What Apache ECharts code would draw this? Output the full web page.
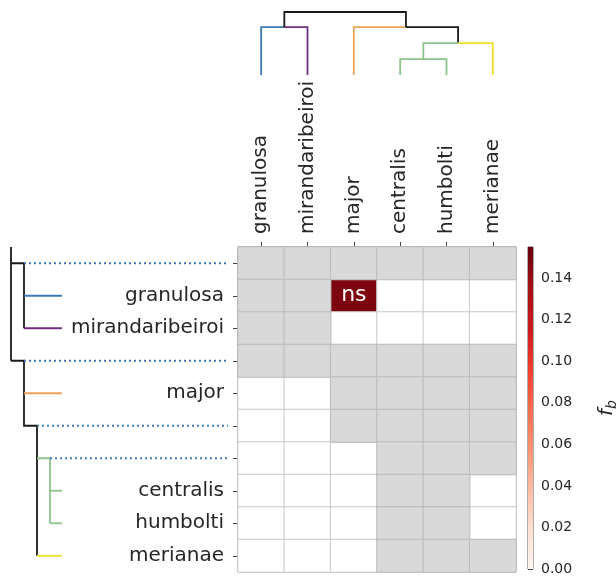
<!DOCTYPE html>
<html>
<head>
<meta charset="utf-8">
<script src="https://cdn.jsdelivr.net/npm/echarts@6/dist/echarts.min.js"></script>
<style>
html,body{margin:0;padding:0;background:#fff;}
#chart{width:616px;height:576px;}
</style>
</head>
<body>
<div id="chart"></div>
<script>
// ---- data ----
const cols = ['granulosa', 'mirandaribeiroi', 'major', 'centralis', 'humbolti', 'merianae'];
const rows = ['node_a', 'granulosa', 'mirandaribeiroi', 'node_b', 'major', 'node_c', 'node_d', 'centralis', 'humbolti', 'merianae'];
const internalNodes = ['node_a', 'node_b', 'node_c', 'node_d'];
const N = null;
const fbValues = [
  [N, N, N, N, N, N],
  [N, N, 0.148, 0, 0, 0],
  [N, N, 0, 0, 0, 0],
  [N, N, N, N, N, N],
  [0, 0, N, N, N, N],
  [0, 0, N, N, N, N],
  [0, 0, 0, N, N, N],
  [0, 0, 0, N, N, 0],
  [0, 0, 0, N, N, 0],
  [0, 0, 0, N, N, N]
];
const annotations = [{ row: 'granulosa', col: 'major', text: 'ns' }];
const cbMax = 0.155;
const cbTicks = [0, 0.02, 0.04, 0.06, 0.08, 0.10, 0.12, 0.14];

// top dendrogram: [column position, link height] polylines
const topDendroLinks = [
  { color: 'blue',   pts: [[0, 0], [0, 3], [0.5, 3]] },
  { color: 'purple', pts: [[0.5, 3], [1, 3], [1, 0]] },
  { color: 'orange', pts: [[2, 0], [2, 3], [3.125, 3]] },
  { color: 'black',  pts: [[3.125, 3], [4.25, 3], [4.25, 2]] },
  { color: 'green',  pts: [[3, 0], [3, 1], [4, 1], [4, 0]] },
  { color: 'green',  pts: [[3.5, 1], [3.5, 2], [4.25, 2]] },
  { color: 'yellow', pts: [[4.25, 2], [5, 2], [5, 0]] },
  { color: 'black',  pts: [[0.5, 3], [0.5, 3.95], [3.125, 3.95], [3.125, 3]] }
];
// left tree: [depth, row index] polylines
const leafDepth = 3.92;
const leftTreeLinks = [
  { color: 'black',  pts: [[0, -0.5], [0, 3]] },
  { color: 'black',  pts: [[0, 0], [1, 0], [1, 2]] },
  { color: 'blue',   pts: [[1, 1], [leafDepth, 1]] },
  { color: 'purple', pts: [[1, 2], [leafDepth, 2]] },
  { color: 'black',  pts: [[0, 3], [1, 3], [1, 5], [2, 5], [2, 9]] },
  { color: 'orange', pts: [[1, 4], [leafDepth, 4]] },
  { color: 'green',  pts: [[2, 6], [3, 6], [3, 8]] },
  { color: 'green',  pts: [[3, 7], [leafDepth, 7]] },
  { color: 'green',  pts: [[3, 8], [leafDepth, 8]] },
  { color: 'yellow', pts: [[2, 9], [leafDepth, 9]] }
];
const leftTreeMax = 16.7;
const dottedNodes = [
  { row: 0, depth: 1 },
  { row: 3, depth: 1 },
  { row: 5, depth: 2 },
  { row: 6, depth: 3 }
];

// ---- styles ----
const palette = {
  blue: '#3d77b0', purple: '#6f2f80', orange: '#eea356',
  green: '#8cc48c', yellow: '#f0e022', black: '#1a1a1a'
};
const reds = ['#fff5f0', '#fee0d2', '#fcbba1', '#fc9272', '#fb6a4a', '#ef3b2c', '#cb181d', '#a50f15', '#67000d'];
const FONT = 'DejaVu Sans';
const TXT = '#262626';

const valueData = [], zeroData = [], nanData = [];
fbValues.forEach((row, r) => row.forEach((v, c) => {
  if (v === null) nanData.push([c, r, 0]);
  else if (v === 0) zeroData.push([c, r, v]);
  else valueData.push([c, r, v]);
}));
function annotationFor(c, r) {
  const a = annotations.find(a => a.row === rows[r] && a.col === cols[c]);
  return a ? a.text : '';
}

const chart = echarts.init(document.getElementById('chart'), null, { renderer: 'canvas' });

const HM = { left: 238, top: 247, width: 278, height: 325 };

const option = {
  animation: false,
  backgroundColor: '#ffffff',
  textStyle: { fontFamily: FONT },
  grid: [
    { left: HM.left, top: HM.top, width: HM.width, height: HM.height, show: true, borderColor: '#5a5a5a', borderWidth: 1, backgroundColor: 'transparent' },
    { left: 528, top: HM.top, width: 20, height: HM.height, show: true, borderColor: '#5a5a5a', borderWidth: 1 },
    { left: HM.left, top: 12, width: HM.width, height: 63 },
    { left: 11, top: HM.top, width: 217, height: HM.height }
  ],
  xAxis: [
    {
      gridIndex: 0, type: 'category', data: cols, position: 'top',
      axisLine: { show: false },
      axisTick: { show: true, alignWithLabel: true, length: 5, lineStyle: { color: '#444' } },
      axisLabel: { rotate: -90, fontSize: 20, color: TXT, fontFamily: FONT, margin: 13, interval: 0 },
      splitLine: { show: true, lineStyle: { color: '#c4c4c4', width: 1 } }
    },
    { gridIndex: 1, type: 'value', min: 0, max: 1, show: false },
    { gridIndex: 2, type: 'value', min: -0.5, max: cols.length - 0.5, show: false },
    { gridIndex: 3, type: 'value', min: 0, max: leftTreeMax, show: false }
  ],
  yAxis: [
    {
      gridIndex: 0, type: 'category', data: rows, inverse: true,
      axisLine: { show: false },
      axisTick: { show: true, alignWithLabel: true, length: 5, lineStyle: { color: '#444' } },
      axisLabel: {
        fontSize: 20, color: TXT, fontFamily: FONT, margin: 14, interval: 0,
        formatter: v => internalNodes.includes(v) ? '' : v
      },
      splitLine: { show: true, lineStyle: { color: '#c4c4c4', width: 1 } }
    },
    {
      gridIndex: 1, type: 'value', min: 0, max: cbMax, position: 'right',
      axisLine: { show: false },
      axisTick: { show: true, length: 5, lineStyle: { color: '#444' }, customValues: cbTicks },
      axisLabel: { fontSize: 14, color: TXT, fontFamily: FONT, margin: 8, customValues: cbTicks, formatter: v => v.toFixed(2) },
      splitLine: { show: false },
      name: '{f|f}{b|b}', nameLocation: 'middle', nameGap: 62, nameRotate: 90,
      nameTextStyle: {
        rich: {
          f: { fontSize: 20, fontStyle: 'italic', fontFamily: FONT, color: TXT },
          b: { fontSize: 14, fontStyle: 'italic', fontFamily: FONT, color: TXT, verticalAlign: 'bottom', padding: [10, 0, 0, 0] }
        }
      }
    },
    { gridIndex: 2, type: 'value', min: 0, max: 3.95, show: false },
    { gridIndex: 3, type: 'value', min: -0.5, max: rows.length - 0.5, inverse: true, show: false }
  ],
  visualMap: {
    type: 'continuous', show: false, seriesIndex: 0, min: 0, max: cbMax,
    inRange: { color: reds }
  },
  series: [
    {
      type: 'heatmap', xAxisIndex: 0, yAxisIndex: 0, data: valueData,
      itemStyle: { borderColor: '#c4c4c4', borderWidth: 1 },
      label: {
        show: true, color: '#ffffff', fontSize: 22, fontFamily: FONT,
        formatter: p => annotationFor(p.value[0], p.value[1])
      },
      emphasis: { disabled: true }
    },
    {
      type: 'heatmap', xAxisIndex: 0, yAxisIndex: 0, data: zeroData,
      itemStyle: { color: '#ffffff', borderColor: '#c8c8c8', borderWidth: 1 },
      emphasis: { disabled: true }
    },
    {
      type: 'heatmap', xAxisIndex: 0, yAxisIndex: 0, data: nanData,
      itemStyle: { color: '#d9d9d9', borderColor: '#bbbbbb', borderWidth: 1 },
      emphasis: { disabled: true }
    },
    {
      type: 'custom', xAxisIndex: 1, yAxisIndex: 1, data: [[1, cbMax]],
      renderItem: (params, api) => {
        const p0 = api.coord([0, 0]);
        const p1 = api.coord([api.value(0), api.value(1)]);
        return {
          type: 'rect',
          shape: { x: p0[0], y: p1[1], width: p1[0] - p0[0], height: p0[1] - p1[1] },
          style: {
            fill: new echarts.graphic.LinearGradient(0, 1, 0, 0,
              reds.map((c, i) => ({ offset: i / (reds.length - 1), color: c })))
          }
        };
      },
      silent: true
    },
    {
      type: 'lines', coordinateSystem: 'cartesian2d', xAxisIndex: 2, yAxisIndex: 2,
      polyline: true, silent: true,
      data: topDendroLinks.map(l => ({ coords: l.pts, lineStyle: { color: palette[l.color] } })),
      lineStyle: { width: 1.8, opacity: 1 }
    },
    {
      type: 'lines', coordinateSystem: 'cartesian2d', xAxisIndex: 3, yAxisIndex: 3,
      polyline: true, silent: true,
      data: leftTreeLinks.map(l => ({ coords: l.pts, lineStyle: { color: palette[l.color] } })),
      lineStyle: { width: 1.8, opacity: 1 }
    },
    {
      type: 'lines', coordinateSystem: 'cartesian2d', xAxisIndex: 3, yAxisIndex: 3,
      polyline: true, silent: true,
      data: dottedNodes.map(d => ({ coords: [[d.depth, d.row], [leftTreeMax, d.row]] })),
      lineStyle: { width: 2, color: '#3b7bbd', type: [2, 3], opacity: 1 }
    }
  ]
};
chart.setOption(option);
</script>
</body>
</html>
